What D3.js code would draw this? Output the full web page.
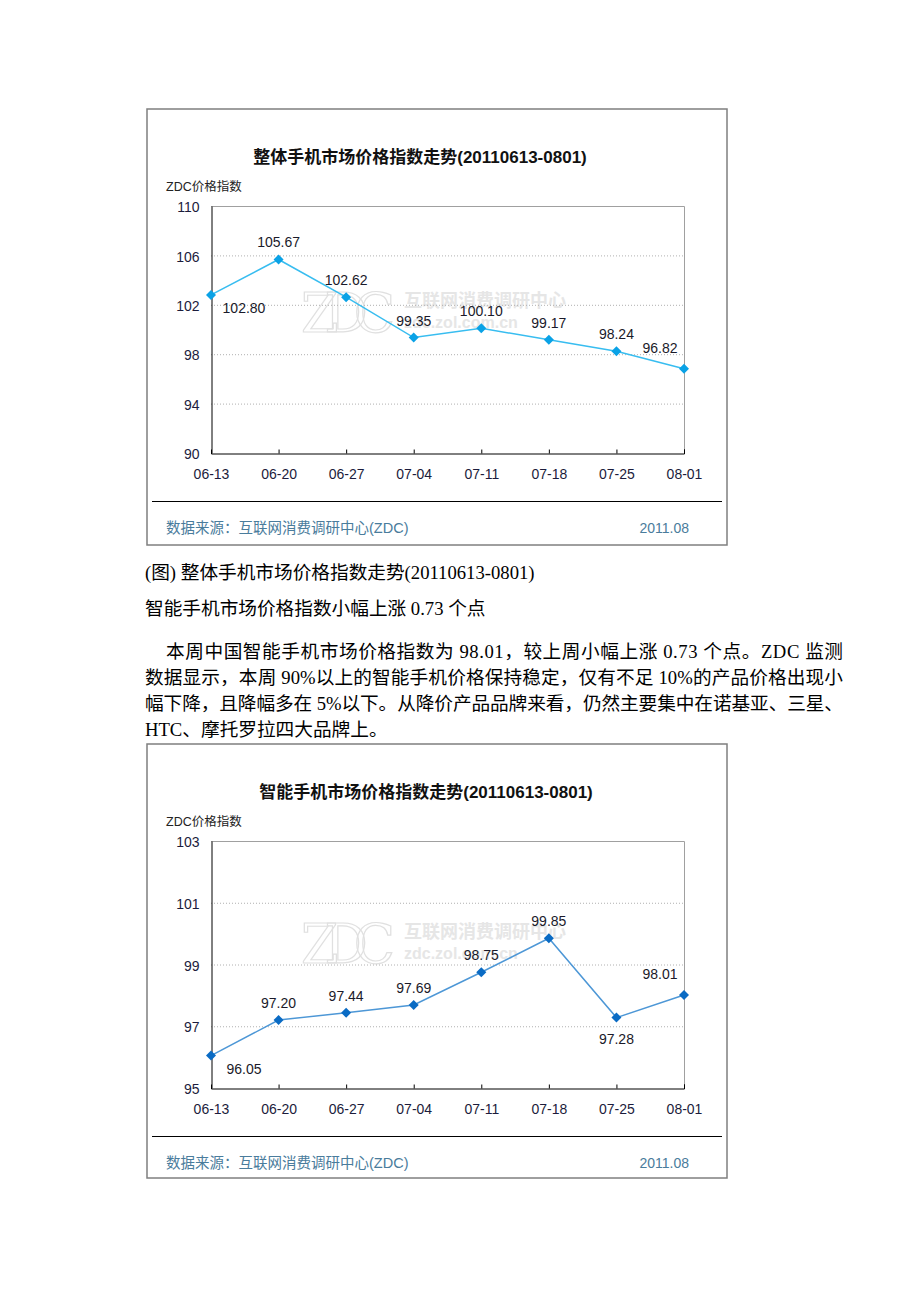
<!DOCTYPE html>
<html>
<head>
<meta charset="utf-8">
<script src="https://cdn.jsdelivr.net/npm/d3@7"></script>
<style>
body { margin: 0; background: #fff; }
svg { display: block; }
</style>
</head>
<body>
<script>
// weekly dates (x categories) shared by both charts
var weeks = ["06-13", "06-20", "06-27", "07-04", "07-11", "07-18", "07-25", "08-01"];

// overall phone market index
var overallValues = [102.80, 105.67, 102.62, 99.35, 100.10, 99.17, 98.24, 96.82];
var overallTicks = [90, 94, 98, 102, 106, 110];
var overallLabelPos = ["br", "a", "a", "a", "a", "a", "a", "al"];

// smart phone market index
var smartValues = [96.05, 97.20, 97.44, 97.69, 98.75, 99.85, 97.28, 98.01];
var smartTicks = [95, 97, 99, 101, 103];
var smartLabelPos = ["br", "a", "a", "a", "a", "a", "b", "al"];

var bodyLines = [
    "本周中国智能手机市场价格指数为 98.01，较上周小幅上涨 0.73 个点。ZDC 监测",
    "数据显示，本周 90%以上的智能手机价格保持稳定，仅有不足 10%的产品价格出现小",
    "幅下降，且降幅多在 5%以下。从降价产品品牌来看，仍然主要集中在诺基亚、三星、",
    "HTC、摩托罗拉四大品牌上。"
];

var sansFont = "Arial, 'Liberation Sans', 'Noto Sans CJK SC', sans-serif";
var serifFont = "'Times New Roman', 'Liberation Serif', 'Noto Sans CJK SC', serif";

var svg = d3.select("body")
    .append("svg")
    .attr("width", 920)
    .attr("height", 1302);

function drawChart(opt)
{
    // everything inside g is in chart coords (frame top = 0)
    var g = svg.append("g").attr("transform", "translate(0," + opt.top + ")");
    var left = 211, right = 684, plotTop = 97, plotBottom = 344;

    // outer frame
    g.append("rect")
        .attr("x", 147).attr("y", 0)
        .attr("width", 580).attr("height", opt.frameH)
        .attr("fill", "#fff")
        .attr("stroke", "#7f7f7f")
        .attr("stroke-width", 1.5);

    g.append("text")
        .attr("x", opt.titleX).attr("y", 54)
        .attr("text-anchor", "middle")
        .attr("font-family", sansFont)
        .attr("font-size", 17)
        .attr("font-weight", "bold")
        .attr("fill", "#111")
        .text(opt.title);

    g.append("text")
        .attr("x", 166).attr("y", 82)
        .attr("font-family", sansFont)
        .attr("font-size", 12.5)
        .attr("fill", "#222")
        .text("ZDC价格指数");

    var x = d3.scalePoint().domain(weeks).range([left, right]);
    var y = d3.scaleLinear()
        .domain(d3.extent(opt.ticks))
        .range([plotBottom, plotTop]);

    // watermark
    var wm = g.append("g").attr("fill", "#e6e6e6");
    wm.append("text")
        .attr("x", 301).attr("y", opt.wmY + 42)
        .attr("font-family", "'DejaVu Serif', serif")
        .attr("font-size", 54)
        .attr("fill", "none")
        .attr("stroke", "#e0e0e0")
        .attr("stroke-width", 1.2)
        .attr("textLength", 94)
        .text("ZDC");
    wm.append("text")
        .attr("x", 404).attr("y", opt.wmY + 17)
        .attr("font-family", sansFont)
        .attr("font-size", 18)
        .attr("font-weight", "bold")
        .text("互联网消费调研中心");
    wm.append("text")
        .attr("x", 404).attr("y", opt.wmY + 38)
        .attr("font-family", sansFont)
        .attr("font-size", 16)
        .attr("font-weight", "bold")
        .text("zdc.zol.com.cn");

    // dotted grid
    g.append("g")
        .selectAll("line")
        .data(opt.ticks.slice(1, -1))
        .join("line")
        .attr("x1", left).attr("x2", right)
        .attr("y1", function (d) { return y(d) + 0.5; })
        .attr("y2", function (d) { return y(d) + 0.5; })
        .attr("stroke", "#b0b0b0")
        .attr("stroke-dasharray", "1,2");

    // plot border: top/right gray, left/bottom black
    g.append("path")
        .attr("d", "M" + left + "," + (plotTop + 0.5) + "H" + (right + 0.5) +
            "V" + plotBottom)
        .attr("fill", "none")
        .attr("stroke", "#a0a0a0");

    var yAxis = g.append("g")
        .attr("transform", "translate(" + (left + 0.5) + ",0)")
        .call(d3.axisLeft(y).tickValues(opt.ticks).tickSize(0).tickPadding(12));
    var xAxis = g.append("g")
        .attr("transform", "translate(0," + (plotBottom + 0.5) + ")")
        .call(d3.axisBottom(x).tickSize(-4).tickPadding(16));
    [yAxis, xAxis].forEach(function (ax) {
        ax.select(".domain").attr("stroke", "#000");
        ax.selectAll(".tick line").attr("stroke", "#000");
        ax.selectAll("text")
            .attr("font-family", sansFont)
            .attr("font-size", 14)
            .attr("fill", "#1c1c3c");
    });
    yAxis.selectAll("text").attr("dy", "0.4em");
    xAxis.selectAll(".tick").filter(function (d, i) { return i === 0; })
        .select("line").remove();

    var line = d3.line()
        .x(function (d, i) { return x(weeks[i]); })
        .y(function (d) { return y(d); });
    g.append("path")
        .datum(opt.values)
        .attr("d", line)
        .attr("fill", "none")
        .attr("stroke", opt.lineColor)
        .attr("stroke-width", 1.5);

    g.append("g")
        .selectAll("path")
        .data(opt.values)
        .join("path")
        .attr("transform", function (d, i) {
            return "translate(" + x(weeks[i]) + "," + y(d) + ")";
        })
        .attr("d", d3.symbol().type(d3.symbolDiamond2).size(64))
        .attr("fill", opt.markerColor);

    // value labels
    g.append("g")
        .selectAll("text")
        .data(opt.values)
        .join("text")
        .attr("x", function (d, i) {
            var p = opt.labelPos[i];
            return x(weeks[i]) + (p === "br" ? 33 : p === "al" ? -24 : 0);
        })
        .attr("y", function (d, i) {
            var p = opt.labelPos[i];
            var off = p === "br" ? 18 : p === "b" ? 26 : p === "al" ? -16 : -12;
            return y(d) + off;
        })
        .attr("text-anchor", "middle")
        .attr("font-family", sansFont)
        .attr("font-size", 14)
        .attr("fill", "#1a1a2a")
        .text(function (d) { return d.toFixed(2); });

    // separator and footer
    g.append("line")
        .attr("x1", 152).attr("x2", 722)
        .attr("y1", 392.5).attr("y2", 392.5)
        .attr("stroke", "#000");
    g.append("text")
        .attr("x", 166).attr("y", 424)
        .attr("font-family", sansFont)
        .attr("font-size", 14.5)
        .attr("fill", "#4a7c9c")
        .text("数据来源：互联网消费调研中心(ZDC)");
    g.append("text")
        .attr("x", 689).attr("y", 424)
        .attr("text-anchor", "end")
        .attr("font-family", sansFont)
        .attr("font-size", 14)
        .attr("fill", "#4a7c9c")
        .text("2011.08");
}

drawChart({
    top: 109, frameH: 436, titleX: 420, wmY: 181,
    title: "整体手机市场价格指数走势(20110613-0801)",
    values: overallValues, ticks: overallTicks, labelPos: overallLabelPos,
    lineColor: "#38bdf0", markerColor: "#0aa2e6"
});

drawChart({
    top: 744, frameH: 434, titleX: 426, wmY: 177,
    title: "智能手机市场价格指数走势(20110613-0801)",
    values: smartValues, ticks: smartTicks, labelPos: smartLabelPos,
    lineColor: "#4d97d6", markerColor: "#0a6bc4"
});

// body text between the charts
var txt = svg.append("g")
    .attr("font-family", serifFont)
    .attr("font-size", 18.67)
    .attr("fill", "#000");
txt.append("text").attr("x", 145).attr("y", 579)
    .text("(图) 整体手机市场价格指数走势(20110613-0801)");
txt.append("text").attr("x", 145).attr("y", 615)
    .text("智能手机市场价格指数小幅上涨 0.73 个点");
txt.selectAll("text.body")
    .data(bodyLines)
    .join("text")
    .attr("class", "body")
    .attr("x", function (d, i) { return i === 0 ? 166 : 145; })
    .attr("y", function (d, i) { return 658 + i * 26; })
    .attr("textLength", function (d, i) { return i < 3 ? (i === 0 ? 677 : 698) : null; })
    .attr("lengthAdjust", "spacing")
    .text(function (d) { return d; });
</script>
</body>
</html>
